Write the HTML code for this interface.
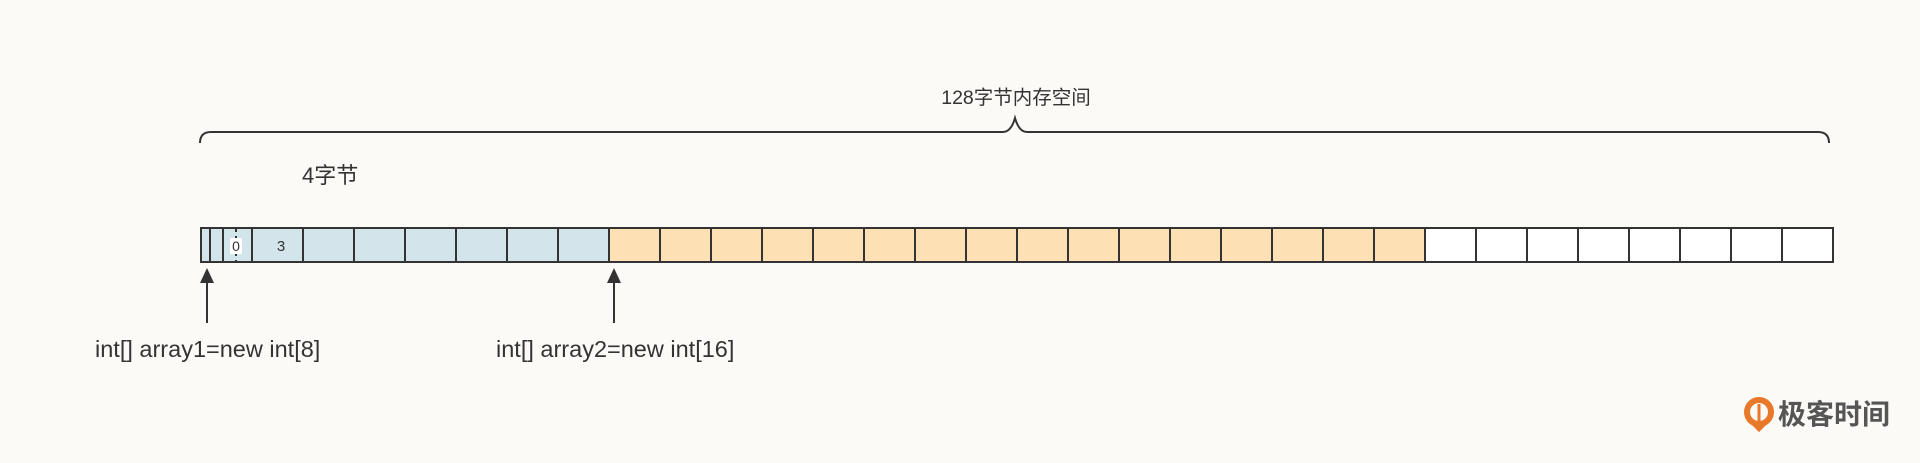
<!DOCTYPE html>
<html><head><meta charset="utf-8"><style>
body{margin:0;background:#fbfaf6;}
svg{display:block}
text{font-family:"Liberation Sans","Noto Sans CJK SC",sans-serif;fill:#333}
</style></head><body>
<svg width="1920" height="463" viewBox="0 0 1920 463" xmlns="http://www.w3.org/2000/svg">
<rect width="1920" height="463" fill="#fbfaf6"/>
<text x="1016" y="104" font-size="19.5" text-anchor="middle">128字节内存空间</text>
<path d="M200,143 Q200,132 211,132 L1003,132 Q1011,132 1015,118 Q1019,132 1027,132 L1818,132 Q1829,132 1829,143" fill="none" stroke="#333" stroke-width="2"/>
<text x="302" y="183" font-size="22">4字节</text>
<g stroke="#333" stroke-width="2">
<rect x="201" y="228" width="408" height="34" fill="#d3e4ea"/>
<rect x="609" y="228" width="816" height="34" fill="#fde0b4"/>
<rect x="1425" y="228" width="408" height="34" fill="#ffffff"/>
<line x1="252" y1="228" x2="252" y2="262"/>
<line x1="303" y1="228" x2="303" y2="262"/>
<line x1="354" y1="228" x2="354" y2="262"/>
<line x1="405" y1="228" x2="405" y2="262"/>
<line x1="456" y1="228" x2="456" y2="262"/>
<line x1="507" y1="228" x2="507" y2="262"/>
<line x1="558" y1="228" x2="558" y2="262"/>
<line x1="660" y1="228" x2="660" y2="262"/>
<line x1="711" y1="228" x2="711" y2="262"/>
<line x1="762" y1="228" x2="762" y2="262"/>
<line x1="813" y1="228" x2="813" y2="262"/>
<line x1="864" y1="228" x2="864" y2="262"/>
<line x1="915" y1="228" x2="915" y2="262"/>
<line x1="966" y1="228" x2="966" y2="262"/>
<line x1="1017" y1="228" x2="1017" y2="262"/>
<line x1="1068" y1="228" x2="1068" y2="262"/>
<line x1="1119" y1="228" x2="1119" y2="262"/>
<line x1="1170" y1="228" x2="1170" y2="262"/>
<line x1="1221" y1="228" x2="1221" y2="262"/>
<line x1="1272" y1="228" x2="1272" y2="262"/>
<line x1="1323" y1="228" x2="1323" y2="262"/>
<line x1="1374" y1="228" x2="1374" y2="262"/>
<line x1="1476" y1="228" x2="1476" y2="262"/>
<line x1="1527" y1="228" x2="1527" y2="262"/>
<line x1="1578" y1="228" x2="1578" y2="262"/>
<line x1="1629" y1="228" x2="1629" y2="262"/>
<line x1="1680" y1="228" x2="1680" y2="262"/>
<line x1="1731" y1="228" x2="1731" y2="262"/>
<line x1="1782" y1="228" x2="1782" y2="262"/>
<line x1="210" y1="228" x2="210" y2="262"/>
<line x1="223" y1="228" x2="223" y2="262"/>
<line x1="236" y1="228" x2="236" y2="262" stroke-dasharray="4,4"/>
</g>
<rect x="230" y="238" width="12" height="16" fill="#fff"/>
<text x="236" y="251" font-size="14" text-anchor="middle">0</text>
<text x="281" y="251" font-size="15" text-anchor="middle">3</text>
<g fill="#333" stroke="#333" stroke-width="2">
<line x1="207" y1="323" x2="207" y2="280"/>
<polygon points="207,268 200,283 214,283" stroke="none"/>
<line x1="614" y1="323" x2="614" y2="280"/>
<polygon points="614,268 607,283 621,283" stroke="none"/>
</g>
<text x="95" y="357" font-size="23.5">int[] array1=new int[8]</text>
<text x="496" y="357" font-size="23.5">int[] array2=new int[16]</text>
<circle cx="1759" cy="412" r="12" fill="none" stroke="#e8782a" stroke-width="6"/>
<path d="M1759,404 L1759,428 M1753,424 L1759,430 L1765,424" stroke="#e8782a" stroke-width="3" fill="none"/>
<text x="1778" y="424" font-size="28" font-weight="bold" style="fill:#555">极客时间</text>
</svg>
</body></html>
